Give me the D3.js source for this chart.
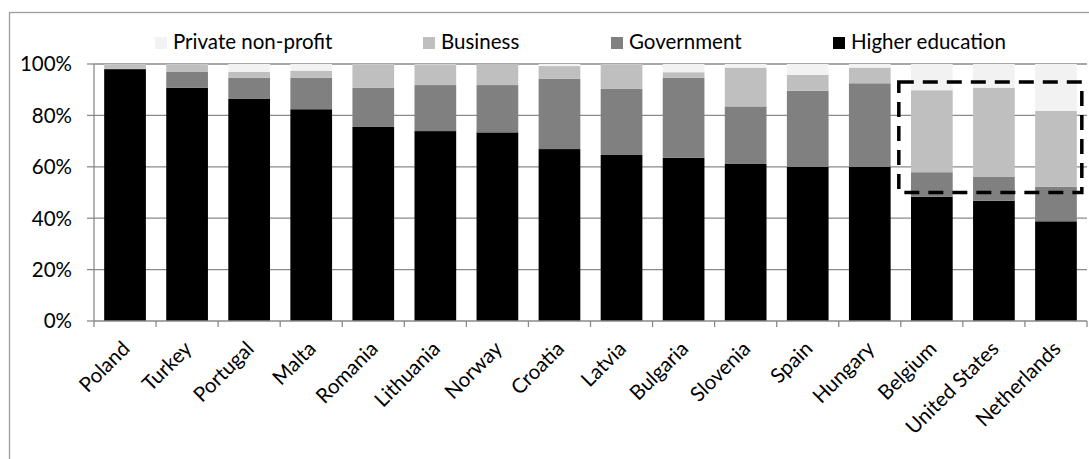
<!DOCTYPE html>
<html>
<head>
<meta charset="utf-8">
<script src="https://cdn.jsdelivr.net/npm/d3@7"></script>
<style>
  html, body { margin: 0; padding: 0; background: #fff; }
  svg { display: block; }
  text { font-family: Lato, "Open Sans", sans-serif; fill: #000; }
</style>
</head>
<body>
<svg id="chart" width="1089" height="459"></svg>
<script>
// ---- data (percent of total) ----
const categories = ["Poland","Turkey","Portugal","Malta","Romania","Lithuania","Norway","Croatia","Latvia","Bulgaria","Slovenia","Spain","Hungary","Belgium","United States","Netherlands"];
const higherEducation = [98.0, 90.8, 86.4, 82.4, 75.5, 73.9, 73.4, 66.9, 64.6, 63.5, 61.1, 60.0, 60.0, 48.4, 46.8, 38.8];
const government      = [ 0.2,  6.1,  8.3, 12.3, 15.3, 17.9, 18.4, 27.3, 25.7, 31.2, 22.4, 29.6, 32.5,  9.5,  9.4, 13.5];
const business        = [ 1.7,  3.0,  2.2,  2.7,  9.1,  8.0,  8.2,  5.0,  9.6,  2.1, 15.1,  6.2,  6.1, 31.9, 34.6, 29.5];
const privateNonProfit= [ 0.1,  0.1,  3.1,  2.6,  0.1,  0.2,  0.0,  0.8,  0.1,  3.2,  1.4,  4.2,  1.4, 10.2,  9.2, 18.2];
const seriesNames = ["Higher education","Government","Business","Private non-profit"];
const yTicks = [0, 20, 40, 60, 80, 100];
const yTickLabels = ["0%","20%","40%","60%","80%","100%"];
const highlightCategories = ["Belgium","Netherlands"];
const highlightRange = [50, 93];

// ---- layout / style ----
const colors = {"Higher education":"#000000","Government":"#808080","Business":"#bfbfbf","Private non-profit":"#f2f2f2"};
const plotLeft = 94, plotRight = 1087, plotTop = 64, plotBottom = 321;
const fontSize = 20.5;

const svg = d3.select("#chart");

// outer frame (extends past the crop)
svg.append("rect").attr("x", 9.5).attr("y", 12.5).attr("width", 1200).attr("height", 600)
  .attr("fill", "none").attr("stroke", "#9d9d9d").attr("stroke-width", 1.3);

const x = d3.scaleBand().domain(categories).range([plotLeft, plotRight]).paddingInner(0.328).paddingOuter(0.164);
const y = d3.scaleLinear().domain([0, 100]).range([plotBottom, plotTop]);

// gridlines
svg.append("g").selectAll("line").data(yTicks.filter(d => d > 0)).join("line")
  .attr("x1", plotLeft).attr("x2", plotRight)
  .attr("y1", d => y(d)).attr("y2", d => y(d))
  .attr("stroke", "#8a8a8a").attr("stroke-width", 1.3);

// stacked data
const rows = categories.map((c, i) => ({
  category: c,
  "Higher education": higherEducation[i],
  "Government": government[i],
  "Business": business[i],
  "Private non-profit": privateNonProfit[i]
}));
const stacked = d3.stack().keys(seriesNames)(rows);

svg.append("g").selectAll("g").data(stacked).join("g")
  .attr("fill", d => colors[d.key])
  .selectAll("rect").data(d => d).join("rect")
  .attr("x", d => x(d.data.category))
  .attr("width", x.bandwidth())
  .attr("y", d => y(d[1]))
  .attr("height", d => Math.max(0, y(d[0]) - y(d[1])));

// y axis
const yAxis = svg.append("g");
yAxis.append("line").attr("x1", plotLeft).attr("x2", plotLeft).attr("y1", plotTop).attr("y2", plotBottom)
  .attr("stroke", "#8a8a8a").attr("stroke-width", 1.3);
yAxis.selectAll("line.tick").data(yTicks).join("line").attr("class", "tick")
  .attr("x1", plotLeft - 7).attr("x2", plotLeft).attr("y1", d => y(d)).attr("y2", d => y(d))
  .attr("stroke", "#8a8a8a").attr("stroke-width", 1.3);
yAxis.selectAll("text").data(yTicks).join("text")
  .attr("x", 72).attr("y", d => y(d)).attr("dy", "0.36em")
  .attr("text-anchor", "end").style("font-size", fontSize + "px")
  .text((d, i) => yTickLabels[i]);

// x axis
const xAxis = svg.append("g");
xAxis.append("line").attr("x1", plotLeft).attr("x2", plotRight).attr("y1", plotBottom).attr("y2", plotBottom)
  .attr("stroke", "#8a8a8a").attr("stroke-width", 1.3);
const boundaries = d3.range(categories.length + 1).map(i => plotLeft + i * x.step());
xAxis.selectAll("line.tick").data(boundaries).join("line").attr("class", "tick")
  .attr("x1", d => d).attr("x2", d => d).attr("y1", plotBottom).attr("y2", plotBottom + 6)
  .attr("stroke", "#8a8a8a").attr("stroke-width", 1.3);
xAxis.selectAll("text").data(categories).join("text")
  .attr("text-anchor", "end").style("font-size", fontSize + "px")
  .attr("transform", d => `translate(${x(d) + x.bandwidth() / 2 + 6},${plotBottom + 29}) rotate(-45)`)
  .text(d => d);

// legend
const legendOrder = seriesNames.slice().reverse();
const legendX = [155, 423, 611, 833];
const legend = svg.append("g").selectAll("g").data(legendOrder).join("g")
  .attr("transform", (d, i) => `translate(${legendX[i]},37)`);
legend.append("rect").attr("width", 12).attr("height", 12).attr("fill", d => colors[d]);
legend.append("text").attr("x", 18).attr("y", 11.5).style("font-size", fontSize + "px").text(d => d);

// dashed highlight box
const hx0 = x(highlightCategories[0]) - (x.step() - x.bandwidth()) / 2 - 2;
const hx1 = x(highlightCategories[1]) + x.bandwidth() + 5;
svg.append("rect")
  .attr("x", hx0).attr("y", y(highlightRange[1]))
  .attr("width", hx1 - hx0).attr("height", y(highlightRange[0]) - y(highlightRange[1]))
  .attr("fill", "none").attr("stroke", "#000").attr("stroke-width", 3.5)
  .attr("stroke-dasharray", "15,9");
</script>
</body>
</html>
